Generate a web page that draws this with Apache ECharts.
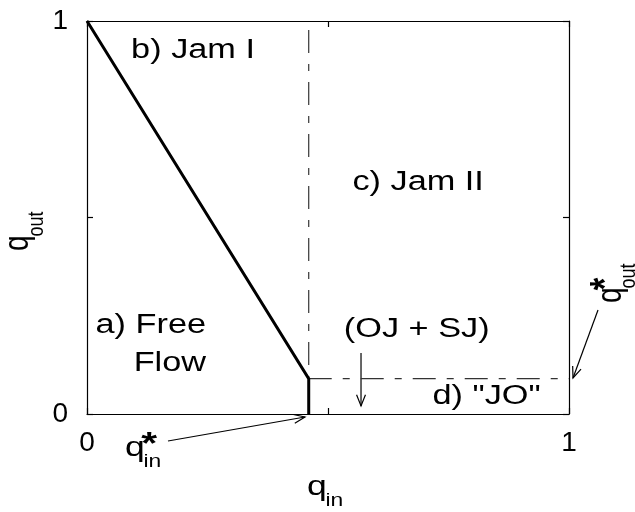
<!DOCTYPE html>
<html>
<head>
<meta charset="utf-8">
<script src="https://cdn.jsdelivr.net/npm/echarts@6/dist/echarts.min.js"></script>
<style>
  html, body { margin: 0; padding: 0; background: #fff; }
  #chart { width: 635px; height: 512px; }
</style>
</head>
<body>
<div id="chart"></div>
<script>
// Critical point of the phase diagram
const qInStar = 0.46;
const qOutStar = 0.09;

// Free-flow boundary (thick solid line)
const boundaryIn = [0, qInStar, qInStar];
const boundaryOut = [1, qOutStar, 0];

// Dash-dot separators
const dividerIn = [qInStar, qInStar];
const dividerOut = [1, qOutStar];
const jamLineIn = [qInStar, 1];
const jamLineOut = [qOutStar, qOutStar];

// Axis ticks and their labels
const tickStep = 0.5;
const tickLabels = { 0: '0', 1: '1' };

// Region labels: text, q_in, q_out, alignment
const regionText = ['b) Jam I', 'c) Jam II', 'a) Free', 'Flow', '(OJ + SJ)', 'd) "JO"'];
const regionIn = [0.22, 0.687, 0.247, 0.247, 0.684, 0.829];
const regionOut = [0.926, 0.588, 0.224, 0.1285, 0.2137, 0.0433];
const regionAlign = ['center', 'center', 'right', 'right', 'center', 'center'];

// Symbols with sub/superscripts: base, subscript, superscript, anchor, rotated
const symbolBase = ['q', 'q', 'q', 'q'];
const symbolSub = ['in', 'out', 'in', 'out'];
const symbolSup = ['', '', '*', '*'];
const symbolIn = [0.4564, -0.142, 0.0788, 1.0871];
const symbolOut = [-0.1852, 0.4148, -0.0865, 0.2824];
const symbolRotated = [false, true, false, true];

// Annotation arrows: [from, to] in axis units
const arrowFrom = [[0.168, -0.0687], [1.0602, 0.2646], [0.5685, 0.1552]];
const arrowTo = [[0.4523, -0.0076], [1.0083, 0.0916], [0.5685, 0.0204]];

const FONT = '"Liberation Sans", Arial, Helvetica, sans-serif';
const STRETCH = 1.27;
const DASH_DOT = [23, 11, 7, 11];

const zip = (xs, ys) => xs.map((x, i) => [x, ys[i]]);

const chart = echarts.init(document.getElementById('chart'), null, { renderer: 'canvas' });

function makeAxis(position, showLabels, isX) {
  return {
    type: 'value',
    position: position,
    min: 0,
    max: 1,
    interval: tickStep,
    axisLine: { show: true, onZero: false, lineStyle: { color: '#000', width: 1.2 } },
    axisTick: { show: true, inside: true, length: 6, lineStyle: { color: '#000', width: 1.2 } },
    axisLabel: {
      show: showLabels,
      margin: isX ? 15 : 19,
      fontSize: 28,
      fontFamily: FONT,
      color: '#000',
      showMinLabel: true,
      showMaxLabel: true,
      formatter: v => (tickLabels[v] !== undefined ? tickLabels[v] : '')
    },
    splitLine: { show: false }
  };
}

chart.setOption({
  animation: false,
  backgroundColor: '#fff',
  grid: { left: 87, right: 66, top: 21, bottom: 98, containLabel: false, outerBoundsMode: 'none' },
  xAxis: [makeAxis('bottom', true, true), makeAxis('top', false, true)],
  yAxis: [makeAxis('left', true, false), makeAxis('right', false, false)],
  series: [
    {
      type: 'line', xAxisIndex: 0, yAxisIndex: 0, symbol: 'none', silent: true,
      data: zip(dividerIn, dividerOut),
      lineStyle: { color: '#333', width: 1.2, type: DASH_DOT, dashOffset: 43 }
    },
    {
      type: 'line', xAxisIndex: 0, yAxisIndex: 0, symbol: 'none', silent: true,
      data: zip(jamLineIn, jamLineOut),
      lineStyle: { color: '#333', width: 1.2, type: DASH_DOT }
    },
    {
      type: 'line', xAxisIndex: 0, yAxisIndex: 0, symbol: 'none', silent: true,
      data: zip(boundaryIn, boundaryOut),
      lineStyle: { color: '#000', width: 3, join: 'miter' }
    }
  ]
});

const toPx = p => chart.convertToPixel({ xAxisIndex: 0, yAxisIndex: 0 }, p);

const graphics = [];

// Region labels
regionText.forEach((t, i) => {
  const p = toPx([regionIn[i], regionOut[i]]);
  graphics.push({
    type: 'text', x: p[0], y: p[1], scaleX: STRETCH, silent: true,
    style: { text: t, font: '27px ' + FONT, fill: '#000', align: regionAlign[i], verticalAlign: 'middle' }
  });
});

// q symbols with subscripts and stars
symbolBase.forEach((b, i) => {
  const p = toPx([symbolIn[i], symbolOut[i]]);
  const children = [
    { type: 'text', x: 0, y: 0, style: { text: b, font: '28px ' + FONT, fill: '#000', align: 'left', verticalAlign: 'middle' } },
    { type: 'text', x: 14.5, y: 14, style: { text: symbolSub[i], font: '18px ' + FONT, fill: '#000', align: 'left', verticalAlign: 'middle' } }
  ];
  if (symbolSup[i]) {
    children.push({ type: 'text', x: 19, y: -3, style: { text: symbolSup[i], font: 'bold 32px ' + FONT, fill: '#000', align: 'center', verticalAlign: 'middle' } });
  }
  const rot = symbolRotated[i];
  graphics.push({
    type: 'group', x: p[0], y: p[1], silent: true,
    rotation: rot ? Math.PI / 2 : 0,
    scaleX: rot ? 1 : STRETCH,
    scaleY: rot ? STRETCH : 1,
    children: children
  });
});

// Arrows with open heads
arrowFrom.forEach((f, i) => {
  const a = toPx(f), b = toPx(arrowTo[i]);
  const ang = Math.atan2(b[1] - a[1], b[0] - a[0]);
  const L = 12, spread = 0.38;
  const h1 = [b[0] - L * Math.cos(ang - spread), b[1] - L * Math.sin(ang - spread)];
  const h2 = [b[0] - L * Math.cos(ang + spread), b[1] - L * Math.sin(ang + spread)];
  graphics.push({ type: 'polyline', silent: true, shape: { points: [a, b] }, style: { stroke: '#000', lineWidth: 1.2, fill: 'none' } });
  graphics.push({ type: 'polyline', silent: true, shape: { points: [h1, b, h2] }, style: { stroke: '#000', lineWidth: 1.2, fill: 'none' } });
});

chart.setOption({ graphic: graphics });
</script>
</body>
</html>
